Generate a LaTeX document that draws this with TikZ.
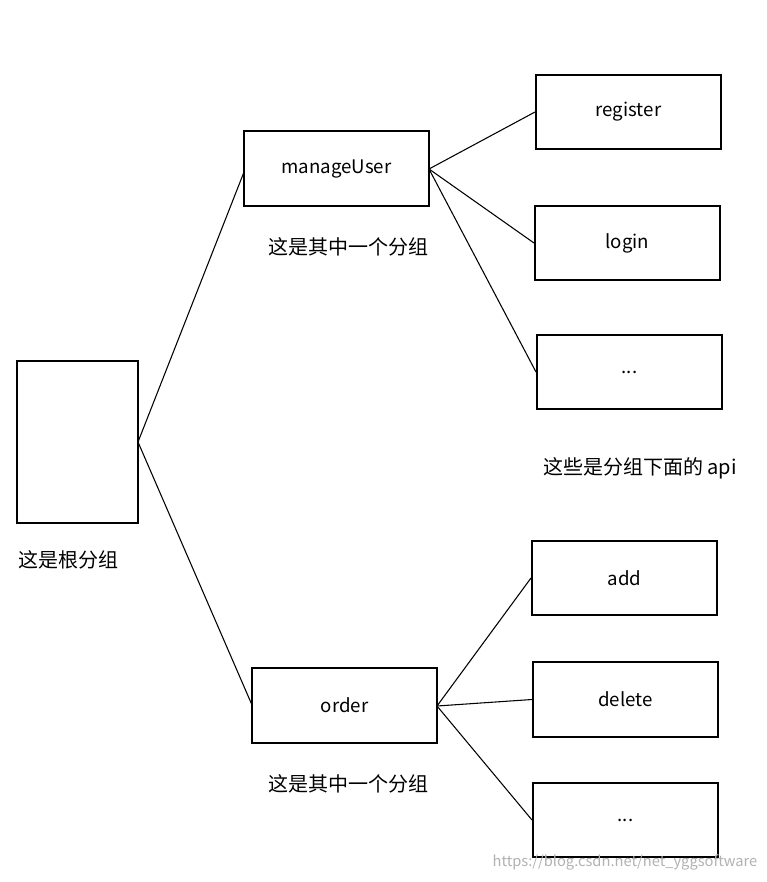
\documentclass[tikz,border=0pt]{standalone}
\usepackage{fontspec}
\setmainfont{Noto Sans CJK SC}
\begin{document}
\begin{tikzpicture}[x=0.75pt,y=-0.75pt,
  box/.style={draw,line width=1.5pt,inner sep=0pt,font=\fontsize{14}{16}\selectfont},
  lbl/.style={font=\fontsize{15}{18}\selectfont,inner sep=0pt},
  conn/.style={line width=0.8pt}]
\useasboundingbox (0,0) rectangle (767,882);
\fill[white] (0,0) rectangle (767,882);
\node[box,minimum width=121*0.75pt,minimum height=162*0.75pt] (root) at (77.5,442) {};
\node[box,minimum width=185*0.75pt,minimum height=75*0.75pt] (mu) at (336.5,168.5) {manageUser};
\node[box,minimum width=185*0.75pt,minimum height=75*0.75pt] (ord) at (344.5,705.5) {order};
\node[box,minimum width=185*0.75pt,minimum height=74*0.75pt] (reg) at (628.5,112) {register};
\node[box,minimum width=185*0.75pt,minimum height=74*0.75pt] (log) at (627.5,243) {login};
\node[box,minimum width=185*0.75pt,minimum height=74*0.75pt] (d1) at (629.5,372) {...};
\node[box,minimum width=185*0.75pt,minimum height=74*0.75pt] (add) at (624.5,578) {add};
\node[box,minimum width=185*0.75pt,minimum height=75*0.75pt] (del) at (625.5,699.5) {delete};
\node[box,minimum width=185*0.75pt,minimum height=74*0.75pt] (d2) at (625.5,820) {...};
\coordinate (rootE) at (138,442);
\coordinate (muW) at (244,172);
\coordinate (ordW) at (252,705);
\coordinate (muE) at (429,169);
\coordinate (ordE) at (437,706);
\draw[conn] (rootE) -- (muW);
\draw[conn] (rootE) -- (ordW);
\draw[conn] (muE) -- (reg.west);
\draw[conn] (muE) -- (log.west);
\draw[conn] (muE) -- (d1.west);
\draw[conn] (ordE) -- (add.west);
\draw[conn] (ordE) -- (del.west);
\draw[conn] (ordE) -- (d2.west);
\node[lbl] (l1) at (348,247) {这是其中一个分组};
\node[lbl] (l2) at (68,560) {这是根分组};
\node[lbl] (l3) at (640,468) {这些是分组下面的 api};
\node[lbl] (l4) at (348,784) {这是其中一个分组};
\node[font=\fontsize{11}{13}\selectfont,text=black!30,inner sep=0pt] (wm) at (625,862) {https://blog.csdn.net/net\_yggsoftware};
\end{tikzpicture}
\end{document}
